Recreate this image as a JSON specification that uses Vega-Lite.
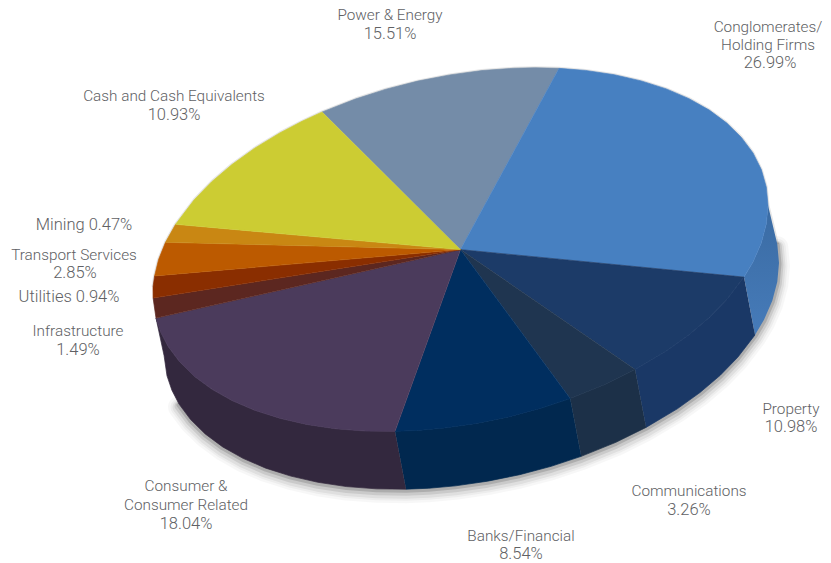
{
"$schema":"https://vega.github.io/schema/vega-lite/v6.json",
"width":831,"height":563,"padding":0,
"autosize":{"type":"fit","contains":"padding"},
"background":"#ffffff",
"view":{"stroke":null},
"datasets":{
"conglomeratesSide":[
{"seq":1,"px":768,"py":206},{"seq":2,"px":766.3,"py":224.8},{"seq":3,"px":761.3,"py":243.8},{"seq":4,"px":753,"py":262.9},{"seq":5,"px":744,"py":278.1},{"seq":6,"px":755,"py":336.1},{"seq":7,"px":764,"py":320.9},{"seq":8,"px":772.3,"py":301.8},{"seq":9,"px":777.3,"py":282.8},{"seq":10,"px":779,"py":264},{"seq":11,"px":777.3,"py":245}
],
"pieces":[
{"piece":"Property side","seq":1,"px":744,"py":278.1},{"piece":"Property side","seq":2,"px":726.8,"py":300.5},{"piece":"Property side","seq":3,"px":709.3,"py":318.6},{"piece":"Property side","seq":4,"px":689,"py":335.9},{"piece":"Property side","seq":5,"px":666.3,"py":352.3},{"piece":"Property side","seq":6,"px":635.1,"py":370.9},{"piece":"Property side","seq":7,"px":646.1,"py":428.9},{"piece":"Property side","seq":8,"px":677.3,"py":410.3},{"piece":"Property side","seq":9,"px":700,"py":393.9},{"piece":"Property side","seq":10,"px":720.3,"py":376.6},{"piece":"Property side","seq":11,"px":737.8,"py":358.5},{"piece":"Property side","seq":12,"px":755,"py":336.1},
{"piece":"Communications side","seq":1,"px":635.1,"py":370.9},{"piece":"Communications side","seq":2,"px":604.9,"py":385.9},{"piece":"Communications side","seq":3,"px":570.2,"py":400},{"piece":"Communications side","seq":4,"px":581.2,"py":458},{"piece":"Communications side","seq":5,"px":615.9,"py":443.9},{"piece":"Communications side","seq":6,"px":646.1,"py":428.9},
{"piece":"Banks side","seq":1,"px":570.2,"py":400},{"piece":"Banks side","seq":2,"px":540.1,"py":410},{"piece":"Banks side","seq":3,"px":508.6,"py":418.4},{"piece":"Banks side","seq":4,"px":476.6,"py":424.9},{"piece":"Banks side","seq":5,"px":444.4,"py":429.6},{"piece":"Banks side","seq":6,"px":417.7,"py":432},{"piece":"Banks side","seq":7,"px":395,"py":432.9},{"piece":"Banks side","seq":8,"px":406,"py":490.9},{"piece":"Banks side","seq":9,"px":428.7,"py":490},{"piece":"Banks side","seq":10,"px":455.4,"py":487.6},{"piece":"Banks side","seq":11,"px":487.6,"py":482.9},{"piece":"Banks side","seq":12,"px":519.6,"py":476.4},{"piece":"Banks side","seq":13,"px":551.1,"py":468},{"piece":"Banks side","seq":14,"px":581.2,"py":458},
{"piece":"Consumer side","seq":1,"px":395,"py":432.9},{"piece":"Consumer side","seq":2,"px":365.5,"py":432.6},{"piece":"Consumer side","seq":3,"px":335.4,"py":430.3},{"piece":"Consumer side","seq":4,"px":306.8,"py":426},{"piece":"Consumer side","seq":5,"px":279.8,"py":419.8},{"piece":"Consumer side","seq":6,"px":254.7,"py":411.8},{"piece":"Consumer side","seq":7,"px":232,"py":402},{"piece":"Consumer side","seq":8,"px":211.7,"py":390.5},{"piece":"Consumer side","seq":9,"px":194.2,"py":377.5},{"piece":"Consumer side","seq":10,"px":179.6,"py":363.1},{"piece":"Consumer side","seq":11,"px":168,"py":347.5},{"piece":"Consumer side","seq":12,"px":160.9,"py":333.6},{"piece":"Consumer side","seq":13,"px":156,"py":319.2},{"piece":"Consumer side","seq":14,"px":164.1,"py":357},{"piece":"Consumer side","seq":15,"px":167,"py":377.2},{"piece":"Consumer side","seq":16,"px":171.9,"py":391.6},{"piece":"Consumer side","seq":17,"px":179,"py":405.5},{"piece":"Consumer side","seq":18,"px":190.6,"py":421.1},{"piece":"Consumer side","seq":19,"px":205.2,"py":435.5},{"piece":"Consumer side","seq":20,"px":222.7,"py":448.5},{"piece":"Consumer side","seq":21,"px":243,"py":460},{"piece":"Consumer side","seq":22,"px":265.7,"py":469.8},{"piece":"Consumer side","seq":23,"px":290.8,"py":477.8},{"piece":"Consumer side","seq":24,"px":317.8,"py":484},{"piece":"Consumer side","seq":25,"px":346.4,"py":488.3},{"piece":"Consumer side","seq":26,"px":376.5,"py":490.6},{"piece":"Consumer side","seq":27,"px":406,"py":490.9},

{"piece":"Power & Energy","share":15.51,"seq":1,"px":460.5,"py":250.5},{"piece":"Power & Energy","share":15.51,"seq":2,"px":322.3,"py":112.3},{"piece":"Power & Energy","share":15.51,"seq":3,"px":355.3,"py":99.4},{"piece":"Power & Energy","share":15.51,"seq":4,"px":386.1,"py":89.5},{"piece":"Power & Energy","share":15.51,"seq":5,"px":417.7,"py":81.4},{"piece":"Power & Energy","share":15.51,"seq":6,"px":449.8,"py":75.2},{"piece":"Power & Energy","share":15.51,"seq":7,"px":482,"py":70.8},{"piece":"Power & Energy","share":15.51,"seq":8,"px":513.9,"py":68.5},{"piece":"Power & Energy","share":15.51,"seq":9,"px":534.9,"py":68},{"piece":"Power & Energy","share":15.51,"seq":10,"px":559.1,"py":68.6},
{"piece":"Conglomerates","share":26.99,"seq":1,"px":460.5,"py":250.5},{"piece":"Conglomerates","share":26.99,"seq":2,"px":559.1,"py":68.6},{"piece":"Conglomerates","share":26.99,"seq":3,"px":585.6,"py":70.7},{"piece":"Conglomerates","share":26.99,"seq":4,"px":614.3,"py":75},{"piece":"Conglomerates","share":26.99,"seq":5,"px":641.2,"py":81.2},{"piece":"Conglomerates","share":26.99,"seq":6,"px":666.3,"py":89.2},{"piece":"Conglomerates","share":26.99,"seq":7,"px":689,"py":99},{"piece":"Conglomerates","share":26.99,"seq":8,"px":709.3,"py":110.5},{"piece":"Conglomerates","share":26.99,"seq":9,"px":726.8,"py":123.5},{"piece":"Conglomerates","share":26.99,"seq":10,"px":741.4,"py":137.9},{"piece":"Conglomerates","share":26.99,"seq":11,"px":753,"py":153.5},{"piece":"Conglomerates","share":26.99,"seq":12,"px":761.3,"py":170.2},{"piece":"Conglomerates","share":26.99,"seq":13,"px":766.3,"py":187.8},{"piece":"Conglomerates","share":26.99,"seq":14,"px":768,"py":206},{"piece":"Conglomerates","share":26.99,"seq":15,"px":766.3,"py":224.8},{"piece":"Conglomerates","share":26.99,"seq":16,"px":761.3,"py":243.8},{"piece":"Conglomerates","share":26.99,"seq":17,"px":753,"py":262.9},{"piece":"Conglomerates","share":26.99,"seq":18,"px":744,"py":278.1},
{"piece":"Property","share":10.98,"seq":1,"px":460.5,"py":250.5},{"piece":"Property","share":10.98,"seq":2,"px":744,"py":278.1},{"piece":"Property","share":10.98,"seq":3,"px":726.8,"py":300.5},{"piece":"Property","share":10.98,"seq":4,"px":709.3,"py":318.6},{"piece":"Property","share":10.98,"seq":5,"px":689,"py":335.9},{"piece":"Property","share":10.98,"seq":6,"px":666.3,"py":352.3},{"piece":"Property","share":10.98,"seq":7,"px":635.1,"py":370.9},
{"piece":"Communications","share":3.26,"seq":1,"px":460.5,"py":250.5},{"piece":"Communications","share":3.26,"seq":2,"px":635.1,"py":370.9},{"piece":"Communications","share":3.26,"seq":3,"px":604.9,"py":385.9},{"piece":"Communications","share":3.26,"seq":4,"px":570.2,"py":400},
{"piece":"Banks/Financial","share":8.54,"seq":1,"px":460.5,"py":250.5},{"piece":"Banks/Financial","share":8.54,"seq":2,"px":570.2,"py":400},{"piece":"Banks/Financial","share":8.54,"seq":3,"px":540.1,"py":410},{"piece":"Banks/Financial","share":8.54,"seq":4,"px":508.6,"py":418.4},{"piece":"Banks/Financial","share":8.54,"seq":5,"px":476.6,"py":424.9},{"piece":"Banks/Financial","share":8.54,"seq":6,"px":444.4,"py":429.6},{"piece":"Banks/Financial","share":8.54,"seq":7,"px":417.7,"py":432},{"piece":"Banks/Financial","share":8.54,"seq":8,"px":395,"py":432.9},
{"piece":"Consumer Related","share":18.04,"seq":1,"px":460.5,"py":250.5},{"piece":"Consumer Related","share":18.04,"seq":2,"px":395,"py":432.9},{"piece":"Consumer Related","share":18.04,"seq":3,"px":365.5,"py":432.6},{"piece":"Consumer Related","share":18.04,"seq":4,"px":335.4,"py":430.3},{"piece":"Consumer Related","share":18.04,"seq":5,"px":306.8,"py":426},{"piece":"Consumer Related","share":18.04,"seq":6,"px":279.8,"py":419.8},{"piece":"Consumer Related","share":18.04,"seq":7,"px":254.7,"py":411.8},{"piece":"Consumer Related","share":18.04,"seq":8,"px":232,"py":402},{"piece":"Consumer Related","share":18.04,"seq":9,"px":211.7,"py":390.5},{"piece":"Consumer Related","share":18.04,"seq":10,"px":194.2,"py":377.5},{"piece":"Consumer Related","share":18.04,"seq":11,"px":179.6,"py":363.1},{"piece":"Consumer Related","share":18.04,"seq":12,"px":168,"py":347.5},{"piece":"Consumer Related","share":18.04,"seq":13,"px":160.9,"py":333.6},{"piece":"Consumer Related","share":18.04,"seq":14,"px":156,"py":319.2},
{"piece":"Infrastructure","share":1.49,"seq":1,"px":460.5,"py":250.5},{"piece":"Infrastructure","share":1.49,"seq":2,"px":156,"py":319.2},{"piece":"Infrastructure","share":1.49,"seq":3,"px":153.1,"py":299},
{"piece":"Utilities","share":0.94,"seq":1,"px":460.5,"py":250.5},{"piece":"Utilities","share":0.94,"seq":2,"px":153.1,"py":299},{"piece":"Utilities","share":0.94,"seq":3,"px":153,"py":288},{"piece":"Utilities","share":0.94,"seq":4,"px":154.6,"py":276.9},
{"piece":"Transport Services","share":2.85,"seq":1,"px":460.5,"py":250.5},{"piece":"Transport Services","share":2.85,"seq":2,"px":154.6,"py":276.9},{"piece":"Transport Services","share":2.85,"seq":3,"px":158.6,"py":260.4},{"piece":"Transport Services","share":2.85,"seq":4,"px":165.5,"py":243.2},
{"piece":"Mining","share":0.47,"seq":1,"px":460.5,"py":250.5},{"piece":"Mining","share":0.47,"seq":2,"px":165.5,"py":243.2},{"piece":"Mining","share":0.47,"seq":3,"px":175.6,"py":225.1},
{"piece":"Cash and Cash Equivalents","share":10.93,"seq":1,"px":460.5,"py":250.5},{"piece":"Cash and Cash Equivalents","share":10.93,"seq":2,"px":175.6,"py":225.1},{"piece":"Cash and Cash Equivalents","share":10.93,"seq":3,"px":194.2,"py":200.5},{"piece":"Cash and Cash Equivalents","share":10.93,"seq":4,"px":211.7,"py":182.4},{"piece":"Cash and Cash Equivalents","share":10.93,"seq":5,"px":232,"py":165.1},{"piece":"Cash and Cash Equivalents","share":10.93,"seq":6,"px":254.7,"py":148.7},{"piece":"Cash and Cash Equivalents","share":10.93,"seq":7,"px":279.8,"py":133.4},{"piece":"Cash and Cash Equivalents","share":10.93,"seq":8,"px":302.1,"py":121.7},{"piece":"Cash and Cash Equivalents","share":10.93,"seq":9,"px":322.3,"py":112.3}
],
"rim":[
{"seq":2,"px":777.3,"py":245},{"seq":3,"px":779,"py":264},{"seq":4,"px":777.3,"py":282.8},{"seq":5,"px":772.3,"py":301.8},{"seq":6,"px":764,"py":320.9},{"seq":7,"px":755,"py":336.1},{"seq":8,"px":737.8,"py":358.5},{"seq":9,"px":720.3,"py":376.6},{"seq":10,"px":700,"py":393.9},{"seq":11,"px":677.3,"py":410.3},{"seq":12,"px":646.1,"py":428.9},{"seq":13,"px":615.9,"py":443.9},{"seq":14,"px":581.2,"py":458},{"seq":15,"px":551.1,"py":468},{"seq":16,"px":519.6,"py":476.4},{"seq":17,"px":487.6,"py":482.9},{"seq":18,"px":455.4,"py":487.6},{"seq":19,"px":428.7,"py":490},{"seq":20,"px":406,"py":490.9},{"seq":21,"px":376.5,"py":490.6},{"seq":22,"px":346.4,"py":488.3},{"seq":23,"px":317.8,"py":484},{"seq":24,"px":290.8,"py":477.8},{"seq":25,"px":265.7,"py":469.8},{"seq":26,"px":243,"py":460},{"seq":27,"px":222.7,"py":448.5},{"seq":28,"px":205.2,"py":435.5},{"seq":29,"px":190.6,"py":421.1},{"seq":30,"px":179,"py":405.5}
],
"crown":[
{"seq":1,"px":153,"py":288},{"seq":2,"px":154.6,"py":276.9},{"seq":3,"px":158.6,"py":260.4},{"seq":4,"px":165.5,"py":243.2},{"seq":5,"px":175.6,"py":225.1},{"seq":6,"px":194.2,"py":200.5},{"seq":7,"px":211.7,"py":182.4},{"seq":8,"px":232,"py":165.1},{"seq":9,"px":254.7,"py":148.7},{"seq":10,"px":279.8,"py":133.4},{"seq":11,"px":302.1,"py":121.7},{"seq":12,"px":322.3,"py":112.3},{"seq":13,"px":355.3,"py":99.4},{"seq":14,"px":386.1,"py":89.5},{"seq":15,"px":417.7,"py":81.4},{"seq":16,"px":449.8,"py":75.2},{"seq":17,"px":482,"py":70.8},{"seq":18,"px":513.9,"py":68.5},{"seq":19,"px":534.9,"py":68},{"seq":20,"px":559.1,"py":68.6},{"seq":21,"px":585.6,"py":70.7},{"seq":22,"px":614.3,"py":75},{"seq":23,"px":641.2,"py":81.2},{"seq":24,"px":666.3,"py":89.2},{"seq":25,"px":689,"py":99},{"seq":26,"px":709.3,"py":110.5},{"seq":27,"px":726.8,"py":123.5},{"seq":28,"px":741.4,"py":137.9},{"seq":29,"px":753,"py":153.5},{"seq":30,"px":761.3,"py":170.2},{"seq":31,"px":766.3,"py":187.8},{"seq":32,"px":768,"py":206},{"seq":33,"px":772,"py":222},{"seq":34,"px":777.3,"py":245}
],
"names":[
{"text":"Power & Energy","px":390,"py":14},
{"text":"Conglomerates/","px":768,"py":26},{"text":"Holding Firms","px":768,"py":44},
{"text":"Cash and Cash Equivalents","px":174,"py":95},
{"text":"Transport Services","px":74,"py":255},
{"text":"Infrastructure","px":78,"py":331},
{"text":"Consumer &","px":186,"py":487},{"text":"Consumer Related","px":186,"py":506},
{"text":"Banks/Financial","px":521,"py":537},
{"text":"Communications","px":689,"py":492},
{"text":"Property","px":791,"py":409}
],
"figures":[
{"text":"15.51%","px":390,"py":33},
{"text":"26.99%","px":770,"py":62},
{"text":"10.93%","px":174,"py":114},
{"text":"Mining 0.47%","px":84,"py":225},
{"text":"2.85%","px":75,"py":273},
{"text":"Utilities 0.94%","px":69,"py":297},
{"text":"1.49%","px":78,"py":350},
{"text":"18.04%","px":186,"py":525},
{"text":"8.54%","px":521,"py":555},
{"text":"3.26%","px":689,"py":511},
{"text":"10.98%","px":791,"py":428}
]
},
"encoding":{
"x":{"field":"px","type":"quantitative","scale":{"domain":[0,831],"nice":false,"zero":false},"axis":null},
"y":{"field":"py","type":"quantitative","scale":{"domain":[563,0],"nice":false,"zero":false},"axis":null}
},
"layer":[
{"data":{"name":"rim"},"mark":{"type":"line","stroke":"#000000","strokeWidth":22,"opacity":0.03,"strokeCap":"round","strokeJoin":"round","yOffset":3},"encoding":{"order":{"field":"seq"}}},
{"data":{"name":"rim"},"mark":{"type":"line","stroke":"#000000","strokeWidth":17,"opacity":0.04,"strokeCap":"round","strokeJoin":"round","yOffset":3},"encoding":{"order":{"field":"seq"}}},
{"data":{"name":"rim"},"mark":{"type":"line","stroke":"#000000","strokeWidth":13,"opacity":0.06,"strokeCap":"round","strokeJoin":"round","yOffset":3},"encoding":{"order":{"field":"seq"}}},
{"data":{"name":"rim"},"mark":{"type":"line","stroke":"#000000","strokeWidth":9,"opacity":0.09,"strokeCap":"round","strokeJoin":"round","yOffset":2},"encoding":{"order":{"field":"seq"}}},
{"data":{"name":"rim"},"mark":{"type":"line","stroke":"#000000","strokeWidth":5,"opacity":0.14,"strokeCap":"round","strokeJoin":"round","yOffset":1},"encoding":{"order":{"field":"seq"}}},
{"data":{"name":"crown"},"mark":{"type":"line","stroke":"#000000","strokeWidth":3,"opacity":0.1,"strokeJoin":"round"},"encoding":{"order":{"field":"seq"}}},
{"data":{"name":"conglomeratesSide"},"mark":{"type":"line","filled":true,"fill":{"gradient":"linear","x1":0,"y1":0,"x2":0,"y2":1,"stops":[{"offset":0,"color":"#3a6ba3"},{"offset":1,"color":"#467bb9"}]}},"encoding":{"order":{"field":"seq"}}},
{"data":{"name":"pieces"},
"mark":{"type":"line","filled":true,"strokeWidth":0.7,"strokeJoin":"round"},
"encoding":{
"order":{"field":"seq"},
"fill":{"field":"piece","type":"nominal","legend":null,"scale":{"domain":["Property side","Communications side","Banks side","Consumer side","Power & Energy","Conglomerates","Property","Communications","Banks/Financial","Consumer Related","Infrastructure","Utilities","Transport Services","Mining","Cash and Cash Equivalents"],"range":["#1a3866","#1c3048","#01284f","#33283e","#748ca8","#4780c1","#1c3b68","#1f3550","#002e5f","#4b3b5c","#5c2720","#8a2e00","#bc5a00","#c98713","#cccc33"]}},
"stroke":{"field":"piece","type":"nominal","legend":null,"scale":{"domain":["Property side","Communications side","Banks side","Consumer side","Power & Energy","Conglomerates","Property","Communications","Banks/Financial","Consumer Related","Infrastructure","Utilities","Transport Services","Mining","Cash and Cash Equivalents"],"range":["#1a3866","#1c3048","#01284f","#33283e","#748ca8","#4780c1","#1c3b68","#1f3550","#002e5f","#4b3b5c","#5c2720","#8a2e00","#bc5a00","#c98713","#cccc33"]}}
}},
{"data":{"name":"names"},"mark":{"type":"text","font":"Roboto","fontSize":15.3,"fontWeight":300,"fill":"#606164","align":"center","baseline":"middle","dy":1},"encoding":{"text":{"field":"text"}}},
{"data":{"name":"figures"},"mark":{"type":"text","font":"Roboto","fontSize":16.5,"fontWeight":300,"fill":"#606164","align":"center","baseline":"middle","dy":1},"encoding":{"text":{"field":"text"}}}
]
}
